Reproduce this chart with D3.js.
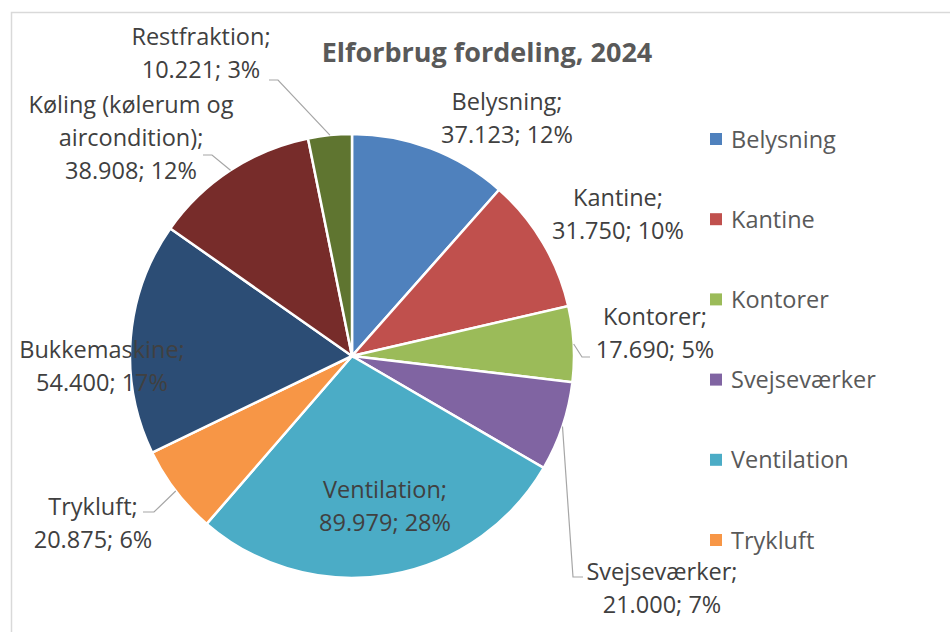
<!DOCTYPE html>
<html>
<head>
  <script src="https://d3js.org/d3.v7.min.js"></script>
  <style>
    body { margin: 0; background: #fff; }
    text { font-family: "Open Sans", sans-serif; }
    .slice path { stroke: #fff; stroke-width: 2.5px; }
    .lbl { fill: #404040; font-size: 23.5px; }
    .leader { fill: none; stroke: #a6a6a6; stroke-width: 1.2px; }
    .legend text { fill: #595959; font-size: 23.5px; }
    .title { fill: #595959; font-size: 27px; font-weight: bold; }
  </style>
</head>
<body>
<div id="chart"></div>
<script>
  // data
  var categories = ["Belysning", "Kantine", "Kontorer", "Svejseværker", "Ventilation",
                    "Trykluft", "Bukkemaskine", "Køling (kølerum og aircondition)", "Restfraktion"];
  var values = [37.123, 31.750, 17.690, 21.000, 89.979, 20.875, 54.400, 38.908, 10.221];
  var percents = ["12%", "10%", "5%", "7%", "28%", "6%", "17%", "12%", "3%"];
  var colors = ["#4f81bd", "#c0504d", "#9bbb59", "#8064a2", "#4bacc6",
                "#f79646", "#2c4d75", "#772c2a", "#5f7530"];
  var legendCount = 6; // only the first six fit in the legend box

  // label placement (text centre x, first baseline y, optional leader elbow + end)
  var labelLayout = [
    { x: 507, y: 110 },
    { x: 618, y: 206 },
    { x: 655, y: 325, leader: [[582, 357], [590, 357]] },
    { x: 662, y: 580, leader: [[573, 577], [583, 577]] },
    { x: 385, y: 498 },
    { x: 93,  y: 515, leader: [[154, 512], [143, 512]] },
    { x: 102, y: 358 },
    { x: 131, y: 113, lines: ["Køling (kølerum og", "aircondition);"], leader: [[212, 155], [203, 155]] },
    { x: 201, y: 45,  leader: [[278, 80], [269, 80]] }
  ];

  var width = 950, height = 632;
  var cx = 352, cy = 356, radius = 222;
  var lineH = 33;

  var fmt = function(v) { return d3.format(".3f")(v).replace(".", "."); };

  var svg = d3.select("#chart").append("svg")
    .attr("width", width)
    .attr("height", height);

  // chart area border
  svg.append("rect")
    .attr("x", 11.5).attr("y", 12.5)
    .attr("width", width + 20).attr("height", height + 20)
    .attr("fill", "none").attr("stroke", "#d9d9d9").attr("stroke-width", 1.5);

  svg.append("text")
    .attr("class", "title")
    .attr("x", 487).attr("y", 62)
    .attr("text-anchor", "middle")
    .text("Elforbrug fordeling, 2024");

  var data = categories.map(function(c, i) {
    return { name: c, value: values[i], pct: percents[i], color: colors[i], i: i };
  });

  var pie = d3.pie().sort(null).value(function(d) { return d.value; });
  var arc = d3.arc().innerRadius(0).outerRadius(radius);
  var edgeArc = d3.arc().innerRadius(radius).outerRadius(radius);

  var g = svg.append("g").attr("transform", "translate(" + cx + "," + cy + ")");
  var arcs = pie(data);

  g.selectAll(".slice")
    .data(arcs)
    .enter().append("g")
    .attr("class", "slice")
    .append("path")
    .attr("d", arc)
    .style("fill", function(d) { return d.data.color; });

  // leader lines
  arcs.forEach(function(d, i) {
    var L = labelLayout[i];
    if (!L.leader) return;
    var p = edgeArc.centroid(d);
    var pts = [[cx + p[0], cy + p[1]]].concat(L.leader);
    svg.append("path")
      .attr("class", "leader")
      .attr("d", d3.line()(pts));
  });

  // data labels
  arcs.forEach(function(d, i) {
    var L = labelLayout[i];
    var lines = (L.lines || [d.data.name + ";"]).concat([fmt(d.data.value) + "; " + d.data.pct]);
    var t = svg.append("text")
      .attr("class", "lbl")
      .attr("text-anchor", "middle");
    lines.forEach(function(s, k) {
      t.append("tspan").attr("x", L.x).attr("y", L.y + k * lineH).text(s);
    });
  });

  // legend
  var legend = svg.append("g").attr("class", "legend")
    .selectAll("g")
    .data(data.slice(0, legendCount))
    .enter().append("g")
    .attr("transform", function(d, i) { return "translate(710," + (139 + i * 80.2) + ")"; });

  legend.append("rect")
    .attr("x", 0).attr("y", -6)
    .attr("width", 12).attr("height", 12)
    .attr("fill", function(d) { return d.color; });

  legend.append("text")
    .attr("x", 21).attr("y", 8.5)
    .text(function(d) { return d.name; });
</script>
</body>
</html>
